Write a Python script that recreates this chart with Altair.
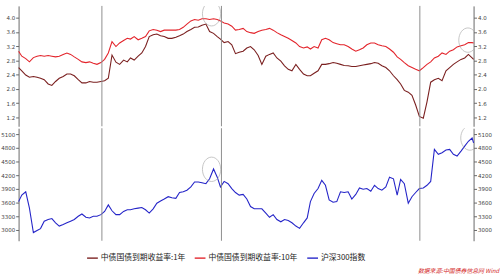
import altair as alt
import pandas as pd

S1 = "中债国债到期收益率:1年"
S10 = "中债国债到期收益率:10年"
SCSI = "沪深300指数"
SERIES = [S1, S10, SCSI]
COLORS = ["#7a1f1f", "#e3242b", "#2424c8"]

# half-monthly sample dates
DATES = (["2015-12-03", "2015-12-16"]
         + [f"{y}-{m:02d}-{d}" for y in range(2016, 2021) for m in range(1, 13) for d in ("01", "16")]
         + ["2020-12-22"])

Y10 = [3.06, 2.92, 2.85, 2.76, 2.88, 2.92, 2.94, 2.92, 2.94, 2.92,
       2.90, 2.92, 2.97, 3.01, 2.97, 2.90, 2.83, 2.76, 2.74, 2.76,
       2.72, 2.69, 2.74, 2.83, 3.01, 3.33, 3.19, 3.29, 3.36, 3.42,
       3.40, 3.47, 3.38, 3.42, 3.47, 3.63, 3.67, 3.65, 3.61, 3.65,
       3.65,
       3.65, 3.65, 3.67, 3.73, 3.82, 3.91, 3.95, 3.93, 3.97, 3.97,
       3.95, 3.97, 3.95, 3.91, 3.85, 3.82, 3.76, 3.65, 3.67, 3.70,
       3.61, 3.58, 3.56, 3.61, 3.65, 3.67, 3.70, 3.65, 3.58, 3.52,
       3.47, 3.42, 3.36, 3.29, 3.19, 3.15, 3.18, 3.12, 3.19, 3.15,
       3.38, 3.42,
       3.38, 3.30, 3.27, 3.24, 3.24, 3.19, 3.12, 3.06, 3.10, 3.15,
       3.24, 3.29, 3.29, 3.24, 3.21, 3.19, 3.12, 3.03, 2.90, 2.83,
       2.74, 2.65, 2.60, 2.55, 2.51, 2.60, 2.69, 2.76, 2.87, 2.92,
       3.01, 2.97, 3.06, 3.10, 3.18, 3.21, 3.24, 3.30, 3.30, 3.29]

Y1 = [2.60, 2.51, 2.39, 2.33, 2.35, 2.33, 2.30, 2.26, 2.14, 2.10,
      2.21, 2.30, 2.35, 2.42, 2.42, 2.37, 2.26, 2.17, 2.17, 2.21,
      2.19, 2.19, 2.21, 2.23, 2.30, 2.95, 2.75, 2.69, 2.81, 2.76,
      2.87, 2.81, 2.92, 3.01, 3.19, 3.47, 3.52, 3.54, 3.49, 3.47,
      3.42,
      3.42, 3.45, 3.49, 3.54, 3.61, 3.67, 3.73, 3.74, 3.79, 3.82,
      3.61, 3.56, 3.47, 3.40, 3.30, 3.33, 3.24, 2.99, 3.03, 3.06,
      3.15, 3.19, 3.10, 2.94, 2.69, 2.92, 2.97, 3.01, 2.87, 2.78,
      2.65, 2.55, 2.51, 2.69, 2.55, 2.42, 2.37, 2.37, 2.44, 2.51,
      2.69, 2.69,
      2.71, 2.74, 2.72, 2.69, 2.66, 2.65, 2.63, 2.63, 2.65, 2.67,
      2.69, 2.71, 2.74, 2.72, 2.65, 2.60, 2.51, 2.37, 2.26, 2.14,
      1.96, 1.91, 1.82, 1.55, 1.23, 1.18, 1.64, 2.19, 2.26, 2.30,
      2.23, 2.51, 2.60, 2.69, 2.76, 2.83, 2.87, 2.97, 2.87, 2.83]

CSI = [3621, 3764, 3836, 3479, 2943, 2990, 3030, 3193, 3229, 3250,
       3157, 3086, 3121, 3157, 3193, 3229, 3300, 3350, 3279, 3264,
       3300, 3300, 3336, 3407, 3550, 3421, 3336, 3336, 3407, 3443,
       3443, 3464, 3479, 3493, 3443, 3371, 3464, 3586, 3636, 3679,
       3729,
       3707, 3693, 3821, 3836, 3871, 3943, 4050, 4050, 4036, 4014,
       4121, 4336, 4157, 3943, 4064, 4014, 3907, 3821, 3764, 3779,
       3679, 3514, 3464, 3464, 3464, 3371, 3279, 3336, 3229, 3179,
       3229, 3207, 3157, 3086, 3036, 3157, 3264, 3621, 3800, 3907,
       4086, 3979,
       3657, 3607, 3621, 3836, 3821, 3836, 3679, 3779, 3921, 3893,
       3907, 3850, 3979, 3907, 3871, 3943, 4157, 4121, 3764, 4107,
       4014, 3586, 3729, 3821, 3907, 3921, 3979, 4064, 4764, 4657,
       4693, 4750, 4764, 4657, 4621, 4729, 4836, 4943, 5014, 4907]

assert len(DATES) == len(Y1) == len(Y10) == len(CSI)

VLINE_DATES = ["2016-11-05", "2018-03-05", "2020-05-18"]
MARK_BOND_DATES = ["2018-01-24", "2020-11-29"]
MARK_BOND_VALUES = [4.11, 3.37]
MARK_CSI_DATES = ["2018-01-24", "2020-12-07"]
MARK_CSI_VALUES = [4329, 5014]

BOND_TICKS = [1.2, 1.6, 2.0, 2.4, 2.8, 3.2, 3.6, 4.0]
CSI_TICKS = [3000, 3300, 3600, 3900, 4200, 4500, 4800, 5100]
BOND_DOMAIN = [0.953, 4.33]
CSI_DOMAIN = [2764, 5229]
SOURCE = "数据来源:中国债券信息网 Wind"

bond = pd.DataFrame({
    "date": DATES * 2,
    "value": Y1 + Y10,
    "series": [S1] * len(DATES) + [S10] * len(DATES),
})
csi = pd.DataFrame({"date": DATES, "value": CSI, "series": [SCSI] * len(DATES)})
vlines = pd.DataFrame({"date": VLINE_DATES})
mk_bond = pd.DataFrame({"date": MARK_BOND_DATES, "value": MARK_BOND_VALUES})
mk_csi = pd.DataFrame({"date": MARK_CSI_DATES, "value": MARK_CSI_VALUES})

W = 465
H_UP = 123
H_LO = 115
AXC = "#666666"
LABC = "#444444"
ELLIPSE = "M-0.75,0A0.75,1,0,1,1,0.75,0A0.75,1,0,1,1,-0.75,0Z"

xdom = [alt.DateTime(year=2015, month=12, date=3), alt.DateTime(year=2020, month=12, date=22)]
xs = alt.Scale(domain=xdom)
xticks = []
for y in range(2015, 2021):
    for (m, d) in [(3, 31), (6, 30), (9, 30), (12, 31)]:
        if (y, m) >= (2015, 12) and (y, m) <= (2020, 9):
            xticks.append(alt.DateTime(year=y, month=m, date=d))

legend = alt.Legend(
    orient="none", legendX=69, legendY=251, direction="horizontal",
    title=None, symbolType="stroke", symbolSize=121, symbolStrokeWidth=1.4,
    labelFontSize=8, labelFont="Noto Sans CJK SC", labelColor="#222222",
    labelLimit=300, labelOffset=2, columnPadding=6, padding=0,
)
color = alt.Color("series:N", scale=alt.Scale(domain=SERIES, range=COLORS), legend=legend)


def yaxis(orient, values, fmt):
    return alt.Axis(orient=orient, values=values, format=fmt, title=None, grid=False,
                    labelFontSize=5.6, labelColor=LABC, tickSize=3, tickColor=AXC,
                    domainColor=AXC, labelPadding=1, labelFont="DejaVu Sans")


bscale = alt.Scale(domain=BOND_DOMAIN, nice=False, zero=False)
cscale = alt.Scale(domain=CSI_DOMAIN, nice=False, zero=False)

bond_lines = alt.Chart(bond).mark_line(strokeWidth=1.1).encode(
    x=alt.X("date:T", scale=xs, axis=None),
    y=alt.Y("value:Q", scale=bscale, axis=yaxis("left", BOND_TICKS, ".1f")),
    color=color,
)
bond_right = alt.Chart(bond).mark_line(strokeOpacity=0).encode(
    x=alt.X("date:T", scale=xs, axis=None),
    y=alt.Y("value:Q", scale=bscale, axis=yaxis("right", BOND_TICKS, ".1f")),
    detail="series:N",
)
rules_up = alt.Chart(vlines).mark_rule(color="#8c8c8c", strokeWidth=1).encode(
    x=alt.X("date:T", scale=xs, axis=None)
)
ell_up = alt.Chart(mk_bond).mark_point(shape=ELLIPSE, size=620, filled=False,
                                      color="#9a9a9a", strokeWidth=0.8, clip=True).encode(
    x=alt.X("date:T", scale=xs, axis=None),
    y=alt.Y("value:Q", scale=bscale, axis=None),
)
upper = alt.layer(bond_lines, bond_right, rules_up, ell_up).resolve_scale(
    y="independent").properties(width=W, height=H_UP)

xaxis = alt.Axis(values=xticks, title=None, grid=False, labelFontSize=5, labelColor=LABC,
                 tickSize=3, tickColor=AXC, domainColor=AXC, labelPadding=2,
                 labelFont="DejaVu Sans",
                 labelExpr="month(datum.value) == 11 ? timeFormat(datum.value, '%y-%m-%d') : ''")

csi_line = alt.Chart(csi).mark_line(strokeWidth=1.1).encode(
    x=alt.X("date:T", scale=xs, axis=xaxis),
    y=alt.Y("value:Q", scale=cscale, axis=yaxis("left", CSI_TICKS, "d")),
    color=color,
)
csi_right = alt.Chart(csi).mark_line(strokeOpacity=0).encode(
    x=alt.X("date:T", scale=xs, axis=None),
    y=alt.Y("value:Q", scale=cscale, axis=yaxis("right", CSI_TICKS, "d")),
)
rules_lo = alt.Chart(vlines).mark_rule(color="#8c8c8c", strokeWidth=1).encode(
    x=alt.X("date:T", scale=xs, axis=None)
)
ell_lo = alt.Chart(mk_csi).mark_point(shape=ELLIPSE, size=620, filled=False,
                                     color="#9a9a9a", strokeWidth=0.8, clip=True).encode(
    x=alt.X("date:T", scale=xs, axis=None),
    y=alt.Y("value:Q", scale=cscale, axis=None),
)
lower = alt.layer(csi_line, csi_right, rules_lo, ell_lo).resolve_scale(
    y="independent").properties(width=W, height=H_LO)

chart = alt.vconcat(upper, lower, spacing=0).resolve_scale(color="shared").properties(
    padding={"left": 0, "top": 2, "right": 0, "bottom": 0},
    title=alt.TitleParams(SOURCE, orient="bottom", anchor="end", fontSize=6,
                          color="#d42a2a", fontStyle="italic", fontWeight="normal",
                          font="Noto Sans CJK SC", dx=8, dy=4, offset=2),
).configure(background="white").configure_view(stroke=None)

chart.save("out.html", embed_options={"renderer": "svg", "actions": False})
